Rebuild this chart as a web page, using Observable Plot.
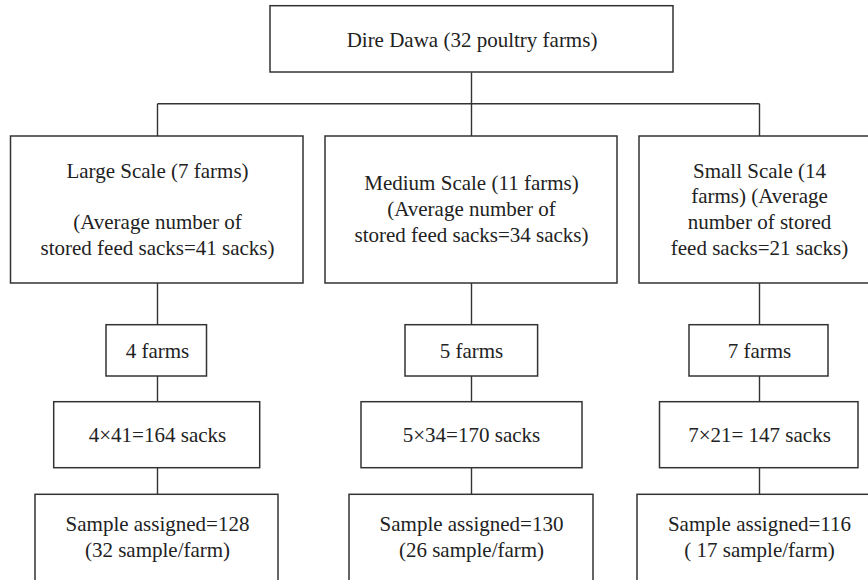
<!DOCTYPE html>
<html>
<head>
<meta charset="utf-8">
<script src="https://cdn.jsdelivr.net/npm/d3@7"></script>
<script src="https://cdn.jsdelivr.net/npm/@observablehq/plot@0.6"></script>
<style>
  html, body { margin: 0; padding: 0; background: #fff; overflow: hidden; }
  #chart svg { display: block; }
</style>
</head>
<body>
<div id="chart"></div>
<script>
// ---- Content (data) ----
const rootLabel = "Dire Dawa (32 poultry farms)";
const scaleLabels = [
  "Large Scale (7 farms)\n\n(Average number of\nstored feed sacks=41 sacks)",
  "Medium Scale (11 farms)\n(Average number of\nstored feed sacks=34 sacks)",
  "Small Scale (14\nfarms) (Average\nnumber of stored\nfeed sacks=21 sacks)"
];
const selectedFarms = ["4 farms", "5 farms", "7 farms"];
const sackTotals = ["4×41=164 sacks", "5×34=170 sacks", "7×21= 147 sacks"];
const sampleLabels = [
  "Sample assigned=128\n(32 sample/farm)",
  "Sample assigned=130\n(26 sample/farm)",
  "Sample assigned=116\n( 17 sample/farm)"
];

// ---- Layout (diagram geometry) ----
const W = 868, H = 580;
const colX = [157, 471, 759];
const rootBox = {x1: 270, x2: 673, y1: 5.7, y2: 72};
const rowY = [
  {y1: 136, y2: 283, ty: 207.5},
  {y1: 324.7, y2: 376, ty: 349.3},
  {y1: 401.7, y2: 467.7, ty: 433.7},
  {y1: 494.3, y2: 610, ty: 535.3}
];
const rowX = [
  [[10.5, 303], [325, 617], [639, 890]],
  [[106, 206.5], [405, 537.6], [689, 828]],
  [[53.7, 259.7], [361, 582], [659.5, 858]],
  [[35, 278], [349, 593], [637, 890]]
];
const branchY = 103.3;

// ---- Build nodes ----
const rowTexts = [scaleLabels, selectedFarms, sackTotals, sampleLabels];
const nodes = [{...rootBox, tx: (rootBox.x1 + rootBox.x2) / 2, ty: 37.8, text: rootLabel}];
rowTexts.forEach((texts, r) => {
  texts.forEach((t, c) => {
    nodes.push({
      x1: rowX[r][c][0], x2: rowX[r][c][1],
      y1: rowY[r].y1, y2: rowY[r].y2,
      tx: colX[c], ty: rowY[r].ty, text: t
    });
  });
});

// ---- Connectors ----
const links = [
  {x1: colX[1], y1: rootBox.y2, x2: colX[1], y2: branchY},
  {x1: colX[0], y1: branchY, x2: colX[2], y2: branchY},
  ...colX.map(x => ({x1: x, y1: branchY, x2: x, y2: rowY[3].y1}))
];

const stroke = "#333";
const plot = Plot.plot({
  width: W,
  height: H,
  margin: 0,
  x: {domain: [0, W], range: [0, W], axis: null},
  y: {domain: [0, H], range: [0, H], axis: null},
  style: {background: "#fff", fontFamily: "'Liberation Serif', 'DejaVu Serif', serif"},
  marks: [
    Plot.link(links, {x1: "x1", y1: "y1", x2: "x2", y2: "y2", stroke, strokeWidth: 1.4}),
    Plot.rect(nodes, {x1: "x1", x2: "x2", y1: "y1", y2: "y2", fill: "white", stroke, strokeWidth: 1.5, clip: true}),
    Plot.text(nodes, {x: "tx", y: "ty", text: "text", fontSize: 21, lineHeight: 1.23, fill: "#222", lineAnchor: "middle", textAnchor: "middle", clip: true})
  ]
});
document.getElementById("chart").appendChild(plot);
</script>
</body>
</html>
